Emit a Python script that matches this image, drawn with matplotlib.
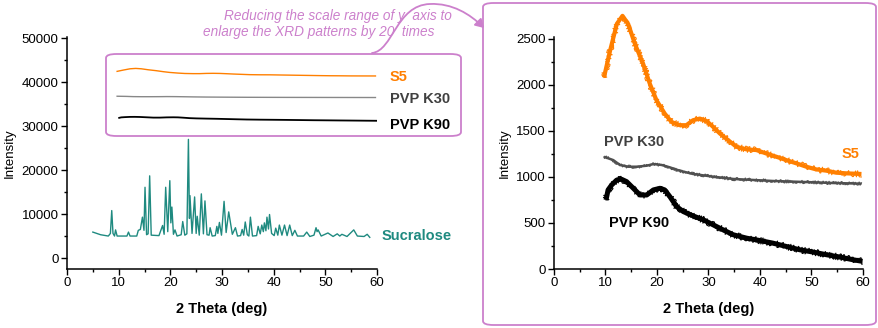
import matplotlib
matplotlib.use("Agg")
import matplotlib.pyplot as plt
from matplotlib.patches import FancyBboxPatch, FancyArrowPatch
from matplotlib.path import Path
from matplotlib.ticker import MultipleLocator

plt.rcParams["font.family"] = ["Liberation Sans", "DejaVu Sans"]

# ---- data ----
# sucralose pattern (2 theta, intensity), left panel
sucralose_x = [5.0, 6.5, 8.0, 8.4, 8.66, 8.9, 9.2, 9.4, 9.7, 11.6, 11.9, 12.2, 13.5, 13.8,
               14.2, 14.6, 14.9, 15.1, 15.4, 15.7, 16.0, 16.3, 17.8, 18.5, 18.8, 19.1, 19.5,
               19.9, 20.1, 20.3, 20.6, 20.9, 21.3, 22.1, 22.4, 22.8, 23.2, 23.5, 23.7, 23.8,
               24.2, 24.7, 25.0, 25.2, 25.6, 26.0, 26.4, 26.7, 27.1, 27.5, 27.7, 28.1, 28.7,
               29.0, 29.2, 29.5, 29.9, 30.4, 30.8, 31.3, 31.6, 32.0, 32.6, 33.0, 33.6, 33.9,
               34.2, 34.5, 34.9, 35.2, 35.5, 35.9, 36.7, 37.0, 37.4, 37.7, 38.0, 38.2, 38.5,
               38.7, 39.0, 39.2, 39.6, 40.1, 40.4, 40.8, 41.1, 41.6, 42.1, 42.6, 43.1, 43.6,
               44.1, 44.6, 45.8, 46.4, 47.0, 47.8, 48.2, 48.4, 48.6, 49.2, 50.5, 51.5, 52.3,
               52.8, 53.2, 54.2, 55.5, 56.2, 57.5, 58.1, 58.6]
sucralose_y = [5900, 5300, 5000, 5600, 10800, 5600, 5000, 6400, 5000, 5000, 5900, 5000, 5000, 6300,
               6500, 9300, 6300, 16100, 5300, 5500, 18700, 5200, 5100, 7400, 5400, 16100, 6000,
               17600, 8000, 11600, 5400, 6400, 5000, 5300, 8300, 5200, 5500, 27000, 9000, 14200,
               5600, 13900, 5600, 9500, 5200, 14600, 5500, 13000, 5300, 5200, 6900, 5000, 5100,
               7200, 5600, 8100, 5200, 12900, 5800, 10500, 8300, 5400, 6900, 5000, 5100, 6500,
               5200, 8200, 5300, 5000, 9300, 5000, 5100, 7200, 5500, 7500, 6000, 8000, 6200,
               9300, 6600, 9900, 5600, 5100, 6800, 5200, 7500, 5200, 7500, 5100, 7500, 5100,
               6300, 5000, 5000, 5900, 4900, 5200, 6900, 6000, 6400, 5000, 5700, 4900, 5500,
               5000, 5400, 4900, 6400, 5000, 4900, 5400, 4700]

# amorphous patterns, right panel (same scans, y range reduced 20 times)
s5_x = [9.7, 10.9, 12.2, 13.3, 14.4, 15.7, 17.3, 18.6, 19.9, 21.5, 22.8, 24.4, 25.7, 27.0,
        28.3, 29.6, 30.9, 32.2, 33.8, 35.4, 37.4, 39.3, 41.2, 43.2, 45.1, 47.1, 49.0, 50.9,
        52.9, 54.8, 56.8, 59.7]
s5_y = [2080, 2374, 2662, 2750, 2662, 2446, 2230, 2013, 1833, 1688, 1598, 1562, 1562, 1616,
        1634, 1609, 1544, 1472, 1400, 1328, 1299, 1292, 1255, 1219, 1183, 1147, 1111, 1082,
        1068, 1046, 1039, 1032]

k30_x = [9.7, 11.5, 12.8, 14.4, 16.0, 18.0, 19.3, 20.9, 22.5, 24.4, 27.0, 30.9, 34.8, 38.7,
         42.5, 46.4, 50.3, 54.2, 59.7]
k30_y = [1219, 1183, 1130, 1111, 1111, 1122, 1140, 1130, 1104, 1068, 1032, 1003, 978, 967,
         956, 949, 942, 934, 927]

k90_x = [10.1, 10.5, 11.2, 12.2, 13.1, 14.1, 15.4, 16.7, 18.0, 19.3, 20.6, 21.5, 22.5, 23.8,
         25.1, 27.0, 29.0, 30.9, 32.8, 34.8, 37.4, 39.9, 42.5, 45.1, 47.7, 50.3, 52.9, 55.5,
         58.0, 59.9]
k90_y = [750, 859, 913, 967, 975, 949, 877, 804, 804, 859, 877, 859, 786, 678,
         624, 577, 534, 480, 426, 372, 335, 310, 281, 245, 209, 184, 155, 130,
         101, 83]

# offsets used for the real-scale copies inside the left inset box
s5_offset = 40400
k30_offset = 35600
k90_offset = 31150

ORANGE = "#ff7f00"
GREY = "#505050"
TEAL = "#1f8a80"
PURPLE = "#cc80cc"

W, H = 879, 328
fig = plt.figure(figsize=(W / 100, H / 100), dpi=100)


def px_rect(x0, y0, x1, y1):
    return [x0 / W, 1 - y1 / H, (x1 - x0) / W, (y1 - y0) / H]


def px(x, y):
    return (x / W, 1 - y / H)


def style_axes(ax):
    for s in ["top", "right"]:
        ax.spines[s].set_visible(False)
    for s in ["left", "bottom"]:
        ax.spines[s].set_linewidth(1.1)
    ax.tick_params(which="major", direction="out", length=4, width=1.0, labelsize=9.5, pad=2)
    ax.tick_params(which="minor", direction="out", length=2.5, width=1.0)
    ax.set_xlim(0, 60)
    ax.xaxis.set_major_locator(MultipleLocator(10))
    ax.xaxis.set_minor_locator(MultipleLocator(5))
    ax.set_xlabel("2 Theta (deg)", fontsize=10.5, fontweight="bold", labelpad=9)
    ax.set_ylabel("Intensity", fontsize=9.5, labelpad=4)
    ax.patch.set_alpha(0)


# ---- left panel ----
ax1 = fig.add_axes(px_rect(67, 37, 377, 269))
style_axes(ax1)
ax1.set_ylim(-2500, 50300)
ax1.yaxis.set_major_locator(MultipleLocator(10000))
ax1.yaxis.set_minor_locator(MultipleLocator(5000))

ax1.plot(sucralose_x, sucralose_y, color=TEAL, lw=1.0)
ax1.text(60.8, 4900, "Sucralose", color=TEAL, fontsize=10.5, fontweight="bold", va="center")

ax1.plot(s5_x, [v + s5_offset for v in s5_y], color=ORANGE, lw=1.0)
ax1.plot(k30_x, [v + k30_offset for v in k30_y], color="#888888", lw=1.0)
ax1.plot(k90_x, [v + k90_offset for v in k90_y], color="black", lw=1.3)
ax1.text(62.5, 41200, "S5", color=ORANGE, fontsize=10.5, fontweight="bold", va="center")
ax1.text(62.5, 36200, "PVP K30", color="#404040", fontsize=10.5, fontweight="bold", va="center")
ax1.text(62.5, 30300, "PVP K90", color="black", fontsize=10.5, fontweight="bold", va="center")

# inset frame on the left panel
fig.patches.append(FancyBboxPatch(px(106, 136), 355 / W, 82 / H,
                                  boxstyle="round,pad=0,rounding_size=0.012",
                                  transform=fig.transFigure, fill=False,
                                  edgecolor=PURPLE, lw=1.3))

# ---- right panel ----
ax2 = fig.add_axes(px_rect(554, 37, 863, 269))
style_axes(ax2)
ax2.set_ylim(0, 2520)
ax2.yaxis.set_major_locator(MultipleLocator(500))
ax2.yaxis.set_minor_locator(MultipleLocator(250))

# scan noise: a solid band plus a sketched (jagged) copy of the same smooth read values
for xs, ys, c, band, amp in [(s5_x, s5_y, ORANGE, 3.0, 3.0),
                             (k30_x, k30_y, GREY, 1.8, 1.6),
                             (k90_x, k90_y, "black", 3.6, 3.2)]:
    ax2.plot(xs, ys, color=c, lw=band, clip_on=False, solid_capstyle="butt")
    ln, = ax2.plot(xs, ys, color=c, lw=0.8, clip_on=False)
    ln.set_sketch_params(scale=amp, length=0.5, randomness=1.5)

ax2.text(55.9, 1245, "S5", color=ORANGE, fontsize=10.5, fontweight="bold", va="center")
ax2.text(9.7, 1380, "PVP K30", color="#404040", fontsize=10.5, fontweight="bold", va="center")
ax2.text(10.7, 505, "PVP K90", color="black", fontsize=10.5, fontweight="bold", va="center")

fig.patches.append(FancyBboxPatch(px(483, 325), 393 / W, 322 / H,
                                  boxstyle="round,pad=0,rounding_size=0.012",
                                  transform=fig.transFigure, fill=False,
                                  edgecolor=PURPLE, lw=1.3))

# ---- annotation ----
fig.text(452 / W, 1 - 16 / H, "Reducing the scale range of y  axis to", color=PURPLE,
         fontsize=9.8, style="italic", ha="right", va="center")
fig.text(435 / W, 1 - 32 / H, "enlarge the XRD patterns by 20  times", color=PURPLE,
         fontsize=9.8, style="italic", ha="right", va="center")

verts = [px(372, 53), px(393, 51), px(396, 5), px(430, 4),
         px(452, 3), px(470, 14), px(484, 28)]
codes = [Path.MOVETO, Path.CURVE4, Path.CURVE4, Path.CURVE4,
         Path.CURVE4, Path.CURVE4, Path.CURVE4]
arrow = FancyArrowPatch(path=Path(verts, codes), arrowstyle="-|>,head_length=5,head_width=3",
                        color=PURPLE, lw=1.3, transform=fig.transFigure)
fig.patches.append(arrow)

fig.savefig("out.png", dpi=100)
